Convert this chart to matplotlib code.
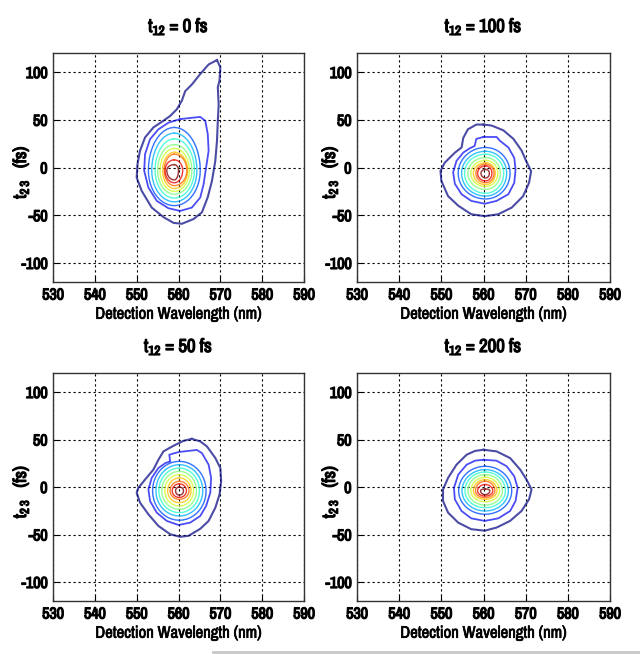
import numpy as np
import matplotlib
matplotlib.use('Agg')
import matplotlib.pyplot as plt
from matplotlib.lines import Line2D
import matplotlib.patheffects as pe

plt.rcParams['font.family'] = ['Archivo Narrow', 'Liberation Sans', 'DejaVu Sans']
plt.rcParams['axes.unicode_minus'] = False
plt.rcParams['mathtext.default'] = 'regular'

# ---------------- data ----------------
titles = ['t$_{12}$ = 0 fs', 't$_{12}$ = 100 fs', 't$_{12}$ = 50 fs', 't$_{12}$ = 200 fs']
x_ticks = [530, 540, 550, 560, 570, 580, 590]
y_ticks = [-100, -50, 0, 50, 100]

# outermost contour (level 1)
p0_outer_x = [569.2, 570, 569.8, 569.4, 569.6, 569.4, 569.2, 568.8, 568, 567, 565.6, 563.6, 560.8, 558.8,
              556.4, 553.6, 551.2, 550, 550.2, 550.8, 552, 554, 556.4, 558, 559.6, 560.8, 561.6, 563.2,
              565.2, 567.2, 569.2]
p0_outer_y = [112.6, 105, 91, 84, 66, 49, 28, 7, -14, -31, -47, -54, -59, -58, -52, -42, -24.5, -10.5,
              3.5, 17.5, 31.5, 42, 49, 54, 61, 70, 80, 87, 98, 108, 112.6]
p1_outer_x = [560, 561.9, 564.7, 567.1, 569, 570.2, 571.3, 570.8, 569.4, 566.7, 563.5, 560.3, 557.1, 554,
              551.6, 550, 549.8, 550.8, 553.2, 554.8, 555.2, 556.3, 558.3, 560]
p1_outer_y = [45, 44, 39, 30, 18, 6, -4, -16, -30, -42, -49, -51, -49, -40, -30, -14, -3.5, 5, 15.5, 21,
              31, 40, 45, 45]
p2_outer_x = [563.2, 565.2, 566.8, 568.8, 570, 570.2, 569.8, 568.8, 567.2, 565.2, 562.4, 560.4, 558, 555.2,
              552.8, 550.8, 550, 550.4, 552, 554, 555.2, 556.4, 558.8, 561.2, 563.2]
p2_outer_y = [50.7, 48, 42.7, 30.5, 20, 6, -8, -21.8, -35.7, -44, -51.4, -52.4, -49.7, -41, -28.7, -16.5,
              -6, -1, 7.8, 18.3, 28.7, 37.5, 43.4, 48.6, 50.7]
p3_outer_x = [560, 563.1, 566.3, 568.7, 570.2, 571.4, 570.8, 569, 566.3, 563.1, 560.3, 557.1, 554, 551.6,
              550.4, 550.4, 551.6, 553.6, 556, 558, 560]
p3_outer_y = [39.2, 37.5, 30.5, 18.3, 7.8, -2.6, -13, -25.3, -35.7, -42.7, -46, -44.4, -37.5, -27, -14.8,
              -2.6, 9.6, 23.5, 34, 38, 39.2]

# second contour (level 2)
p0_mid_x = [560.4, 563, 565.2, 566.4, 567, 567.2, 566.6, 566, 565.2, 563.2, 560.4, 557.6, 554.8, 552.8,
            551.8, 552, 553.2, 555.2, 557.6, 560.4]
p0_mid_y = [50.7, 52, 53, 49, 35, 17.5, 0, -17.5, -31.5, -42, -45.5, -42.7, -35, -21, -3.5, 14, 29.7, 40,
            47, 50.7]
p1_mid_x = [560, 563.1, 563.9, 565.9, 567.3, 567.6, 567.3, 565.9, 563.1, 560.3, 557.1, 554.8, 553.2, 552.8,
            553.6, 555.2, 556.7, 557.9, 558.3, 560]
p1_mid_y = [32, 32, 28, 21, 10, -2, -16, -28, -35, -38, -35, -28, -17, -5, 7, 15.6, 20, 22.6, 30, 32]
p2_mid_x = [558, 557.8, 560, 564.4, 565.6, 567.2, 567.8, 567.6, 566.6, 565.2, 562.8, 560, 557.2, 554.8,
            553.2, 552.8, 553.6, 555.2, 556.8, 558]
p2_mid_y = [27, 34, 36.8, 39, 35.7, 23.5, 9.6, -6, -20, -30.5, -37.5, -40, -35.7, -27, -14.8, -2.6, 9.6,
            20, 25, 27]
p3_mid_x = [560, 563.1, 565.5, 567.3, 568.1, 567.6, 566.3, 563.5, 560.3, 557.1, 554.8, 553.2, 553, 554,
            556, 558, 560]
p3_mid_y = [28.7, 27.7, 21.8, 11.3, -1, -14.8, -25.3, -33, -35.7, -33, -25.3, -13, -1, 13, 23.5, 27.7, 28.7]

# inner contours (levels 3..11): centre, left/right x and bottom/top y extents
p0_center = (559.0, -3.0)
p0_left = [552.8, 553.6, 554.4, 555.0, 555.6, 556.2, 556.6, 556.8, 557.2]
p0_right = [565.2, 564.4, 563.8, 563.2, 562.6, 562.2, 562.0, 561.0, 560.0]
p0_bottom = [-40, -36, -32, -28, -25, -22, -19, -16, -13]
p0_top = [42, 36, 30, 24, 20, 16, 14, 8, 3]

p1_center = (560.5, -6.0)
p1_left = [554.0, 554.8, 555.5, 556.3, 557.0, 557.6, 558.2, 558.6, 559.4]
p1_right = [566.3, 565.5, 564.8, 564.0, 563.4, 562.8, 562.5, 562.0, 561.4]
p1_bottom = [-33, -30, -27, -23, -20, -18, -16, -14, -11]
p1_top = [21, 17, 14, 10.5, 7.5, 5, 3.5, 1.7, -2]

p2_center = (560.2, -4.0)
p2_left = [553.8, 554.6, 555.3, 556.0, 556.7, 557.4, 558.0, 558.5, 559.3]
p2_right = [566.6, 565.8, 565.0, 564.3, 563.6, 563.0, 562.5, 561.9, 561.2]
p2_bottom = [-35, -30.5, -27, -23.5, -20, -16.5, -13, -11, -8.5]
p2_top = [27, 23.5, 20, 16.5, 13, 9.6, 6, 3.3, 0]

p3_center = (560.4, -4.0)
p3_left = [554.1, 554.9, 555.6, 556.3, 557.0, 557.6, 558.1, 558.6, 559.3]
p3_right = [566.7, 565.9, 565.2, 564.5, 563.8, 563.2, 562.7, 562.2, 561.5]
p3_bottom = [-28.7, -25.3, -21.8, -19, -15.5, -13, -11.3, -9.6, -8]
p3_top = [21.8, 18.3, 15.8, 13, 10.3, 7.8, 6, 2.6, -2]

panels = [
    (p0_outer_x, p0_outer_y, p0_mid_x, p0_mid_y, p0_center, p0_left, p0_right, p0_bottom, p0_top),
    (p1_outer_x, p1_outer_y, p1_mid_x, p1_mid_y, p1_center, p1_left, p1_right, p1_bottom, p1_top),
    (p2_outer_x, p2_outer_y, p2_mid_x, p2_mid_y, p2_center, p2_left, p2_right, p2_bottom, p2_top),
    (p3_outer_x, p3_outer_y, p3_mid_x, p3_mid_y, p3_center, p3_left, p3_right, p3_bottom, p3_top),
]


def ring(xc, yc, xl, xr, yb, yt, n=12):
    t = np.linspace(0, np.pi / 2, n)
    xs = np.concatenate([xc + (xr - xc) * np.sin(t), xc + (xr - xc) * np.cos(t),
                         xc - (xc - xl) * np.sin(t), xc - (xc - xl) * np.cos(t)])
    ys = np.concatenate([yc + (yt - yc) * np.cos(t), yc - (yc - yb) * np.sin(t),
                         yc - (yc - yb) * np.cos(t), yc + (yt - yc) * np.sin(t)])
    return xs, ys


bold = [pe.withStroke(linewidth=0.9, foreground='black')]
semi = [pe.withStroke(linewidth=0.5, foreground='black')]

W, H = 640, 654
fig = plt.figure(figsize=(W / 100, H / 100), dpi=100)
boxes = [(53, 304, 53, 282), (357, 610, 53, 282), (53, 304, 373, 601), (357, 610, 373, 601)]
ylabel_px = [31, 340, 31, 340]
cmap = plt.get_cmap('jet')
n_levels = 11
colors = [cmap(v) for v in np.linspace(0, 1, n_levels)]

for k, (box, title, pdata) in enumerate(zip(boxes, titles, panels)):
    l, r, t, b = box
    ax = fig.add_axes([l / W, 1 - b / H, (r - l) / W, (b - t) / H])
    ox, oy, mx, my, (xc, yc), lefts, rights, bottoms, tops = pdata
    ax.plot(ox, oy, color=colors[0], lw=1.5, alpha=0.7, zorder=3)
    ax.plot(mx, my, color=colors[1], lw=1.3, alpha=0.7, zorder=3)
    for i in range(len(lefts)):
        xs, ys = ring(xc, yc, lefts[i], rights[i], bottoms[i], tops[i])
        ax.plot(xs, ys, color=colors[i + 2], lw=1.0, alpha=0.8, zorder=3)
    ax.set_xlim(530, 590)
    ax.set_ylim(-120, 120)
    ax.set_xticks(x_ticks)
    ax.set_yticks(y_ticks)
    ax.grid(True, color='black', linestyle=(0, (2, 2.5)), linewidth=0.8)
    ax.tick_params(direction='in', length=4, width=0.8, labelsize=11.5, pad=4)
    for lab in ax.get_xticklabels() + ax.get_yticklabels():
        lab.set_path_effects(bold)
    for s in ax.spines.values():
        s.set_linewidth(1.0)
        s.set_color('#333333')
    ttl = ax.set_title(title, fontsize=13.5, pad=15)
    ttl.set_path_effects(bold)
    xl = ax.set_xlabel('Detection Wavelength (nm)', fontsize=12, labelpad=3)
    xl.set_path_effects(semi)
    yl = ax.set_ylabel('t$_{2\\,3}$   (fs)', fontsize=13)
    yl.set_path_effects(bold)
    ax.yaxis.set_label_coords((ylabel_px[k] - l) / (r - l), 0.48)

fig.add_artist(Line2D([213 / W, 1.0], [1 - 652 / H, 1 - 652 / H], color='#c8c8c8', lw=2))
fig.savefig('out.png', dpi=100)
